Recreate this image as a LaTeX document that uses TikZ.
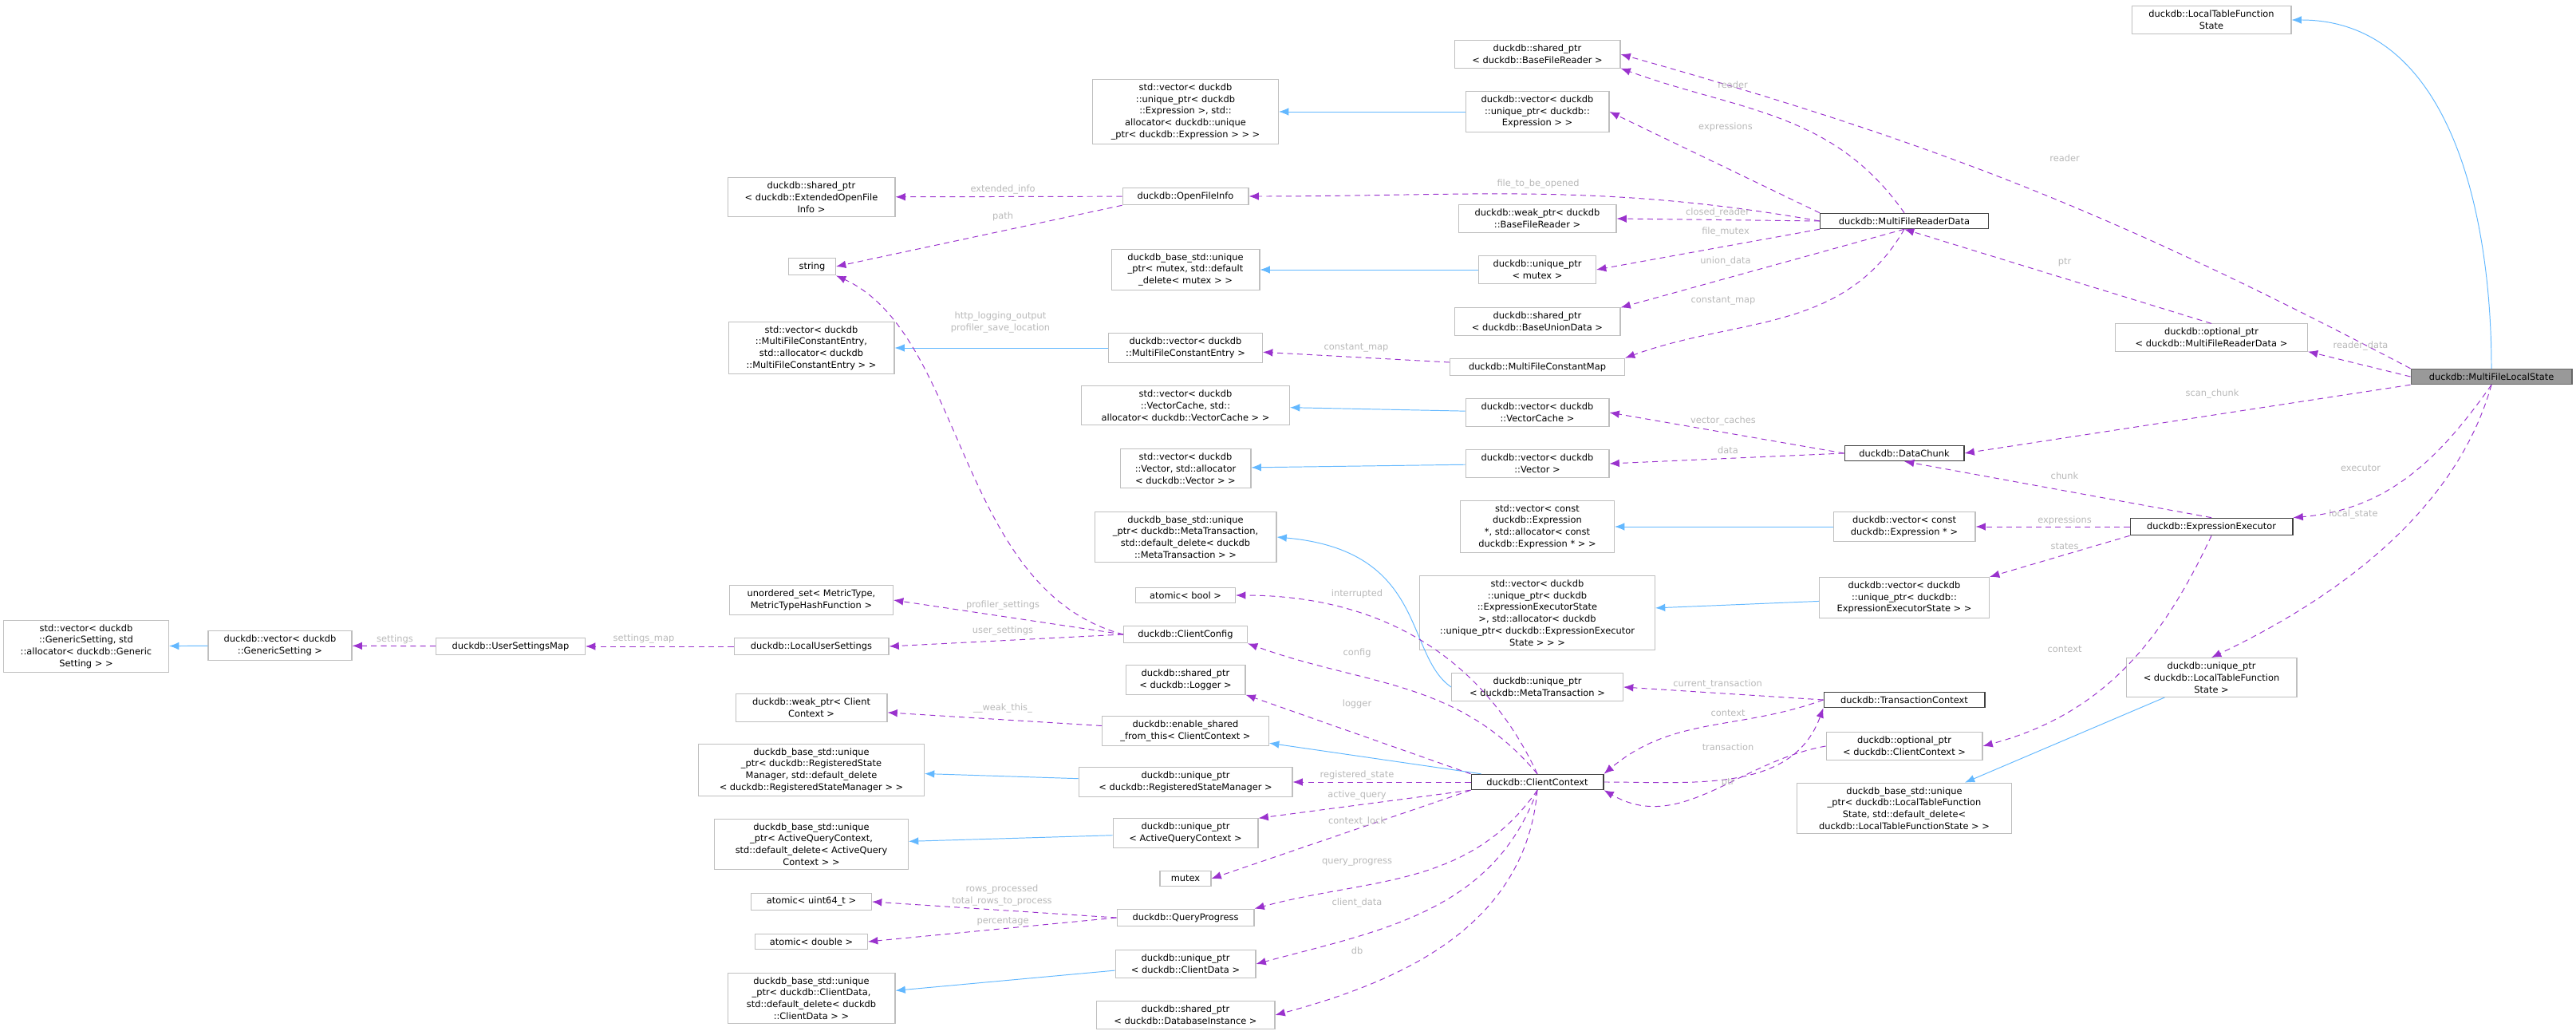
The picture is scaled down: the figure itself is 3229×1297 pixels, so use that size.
\documentclass[tikz,border=0pt]{standalone}
\usepackage{fontspec}
\setmainfont{DejaVu Sans}
\usepackage{xcolor}
\usetikzlibrary{arrows,arrows.meta,shapes,positioning}
\definecolor{refcol}{HTML}{9A32CD}
\definecolor{inhcol}{HTML}{63B8FF}
\definecolor{lblcol}{HTML}{B8B8B8}
\definecolor{litecol}{HTML}{BFBFBF}
\definecolor{darkcol}{HTML}{404040}
\begin{document}
\begin{tikzpicture}[x=0.02cm,y=-0.02cm]
    \tikzstyle{box}=[draw=litecol, line width=0.6pt, rectangle, align=center, inner xsep=3pt, inner ysep=3pt, font=\fontsize{6.5}{8.4}\selectfont]
    \tikzstyle{doc}=[box, draw=darkcol]
    \tikzstyle{main}=[box, draw=darkcol!80, fill=black!40]
    \tikzstyle{lbl}=[text=lblcol, font=\fontsize{6.5}{8.4}\selectfont, align=center, inner sep=1pt]
    \tikzstyle{ref}=[-{Latex[length=7pt,width=5.5pt]}, refcol, dash pattern=on 4pt off 3pt, line width=0.55pt]
    \tikzstyle{inh}=[-{Latex[length=7pt,width=5.5pt]}, inhcol, line width=0.55pt]
    \useasboundingbox (0,0) rectangle (3229,1297);
    % left columns
    \node[box,minimum width=4.14cm] (stdvecgs) at (108,810) {std::vector< duckdb\\::GenericSetting, std\\::allocator< duckdb::Generic\\Setting > >};
    \node[box,minimum width=3.6cm] (vecgs) at (351,809) {duckdb::vector< duckdb\\::GenericSetting >};
    \node[box,minimum width=3.74cm] (usermap) at (640,810) {duckdb::UserSettingsMap};
    \node[box,minimum width=4.2cm] (extinfo) at (1017,247) {duckdb::shared\_ptr\\< duckdb::ExtendedOpenFile\\Info >};
    \node[box,minimum width=1.18cm] (str) at (1018,334) {string};
    \node[box,minimum width=4.16cm] (stdvecmfce) at (1017,436) {std::vector< duckdb\\::MultiFileConstantEntry,\\ std::allocator< duckdb\\::MultiFileConstantEntry > >};
    \node[box,minimum width=4.1cm] (metricset) at (1017,752) {unordered\_set< MetricType,\\MetricTypeHashFunction >};
    \node[box,minimum width=3.88cm] (localsettings) at (1017,810) {duckdb::LocalUserSettings};
    \node[box,minimum width=3.8cm] (weakcc) at (1017,887) {duckdb::weak\_ptr< Client\\Context >};
    \node[box,minimum width=5.66cm] (basersm) at (1017,965) {duckdb\_base\_std::unique\\\_ptr< duckdb::RegisteredState\\Manager, std::default\_delete\\< duckdb::RegisteredStateManager > >};
    \node[box,minimum width=4.86cm] (baseaqc) at (1017,1058) {duckdb\_base\_std::unique\\\_ptr< ActiveQueryContext,\\ std::default\_delete< ActiveQuery\\Context > >};
    \node[box,minimum width=3.02cm] (atomu64) at (1017,1130) {atomic< uint64\_t >};
    \node[box,minimum width=2.82cm] (atomdbl) at (1017,1180) {atomic< double >};
    \node[box,minimum width=4.2cm] (basecd) at (1017,1251) {duckdb\_base\_std::unique\\\_ptr< duckdb::ClientData,\\ std::default\_delete< duckdb\\::ClientData > >};
    % middle column
    \node[box,minimum width=4.66cm] (stdvecexpr) at (1486,140) {std::vector< duckdb\\::unique\_ptr< duckdb\\::Expression >, std::\\allocator< duckdb::unique\\\_ptr< duckdb::Expression > > >};
    \node[box,minimum width=3.16cm] (openinfo) at (1486,246) {duckdb::OpenFileInfo};
    \node[box,minimum width=3.72cm] (basemutex) at (1486,338) {duckdb\_base\_std::unique\\\_ptr< mutex, std::default\\\_delete< mutex > >};
    \node[box,minimum width=3.86cm] (vecmfce) at (1486,436) {duckdb::vector< duckdb\\::MultiFileConstantEntry >};
    \node[box,minimum width=5.22cm] (stdvecvc) at (1486,508) {std::vector< duckdb\\::VectorCache, std::\\allocator< duckdb::VectorCache > >};
    \node[box,minimum width=3.28cm] (stdvecvec) at (1486,587) {std::vector< duckdb\\::Vector, std::allocator\\< duckdb::Vector > >};
    \node[box,minimum width=4.56cm] (basemeta) at (1486,673) {duckdb\_base\_std::unique\\\_ptr< duckdb::MetaTransaction,\\ std::default\_delete< duckdb\\::MetaTransaction > >};
    \node[box,minimum width=2.5cm] (atombool) at (1486,746) {atomic< bool >};
    \node[box,minimum width=3.1cm] (clientcfg) at (1486,795) {duckdb::ClientConfig};
    \node[box,minimum width=3.0cm] (logger) at (1486,852) {duckdb::shared\_ptr\\< duckdb::Logger >};
    \node[box,minimum width=4.18cm] (enableshared) at (1486,916) {duckdb::enable\_shared\\\_from\_this< ClientContext >};
    \node[box,minimum width=5.36cm] (uptrrsm) at (1486,980) {duckdb::unique\_ptr\\< duckdb::RegisteredStateManager >};
    \node[box,minimum width=3.64cm] (uptraqc) at (1486,1044) {duckdb::unique\_ptr\\< ActiveQueryContext >};
    \node[box,minimum width=1.28cm] (mtx) at (1486,1101) {mutex};
    \node[box,minimum width=3.44cm] (progress) at (1486,1150) {duckdb::QueryProgress};
    \node[box,minimum width=3.52cm] (uptrcd) at (1486,1208) {duckdb::unique\_ptr\\< duckdb::ClientData >};
    \node[box,minimum width=4.48cm] (shareddb) at (1486,1272) {duckdb::shared\_ptr\\< duckdb::DatabaseInstance >};
    % right-middle column
    \node[box,minimum width=4.16cm] (sharedbfr) at (1927,68) {duckdb::shared\_ptr\\< duckdb::BaseFileReader >};
    \node[box,minimum width=3.6cm] (vecexpr) at (1927,140) {duckdb::vector< duckdb\\::unique\_ptr< duckdb::\\Expression > >};
    \node[box,minimum width=3.96cm] (weakbfr) at (1927,274) {duckdb::weak\_ptr< duckdb\\::BaseFileReader >};
    \node[box,minimum width=2.94cm] (uptrmutex) at (1927,338) {duckdb::unique\_ptr\\< mutex >};
    \node[box,minimum width=4.16cm] (sharedunion) at (1927,403) {duckdb::shared\_ptr\\< duckdb::BaseUnionData >};
    \node[box,minimum width=4.38cm] (constmap) at (1927,460) {duckdb::MultiFileConstantMap};
    \node[box,minimum width=3.6cm] (vecvc) at (1927,517) {duckdb::vector< duckdb\\::VectorCache >};
    \node[box,minimum width=3.6cm] (vecvec) at (1927,581) {duckdb::vector< duckdb\\::Vector >};
    \node[box,minimum width=3.86cm] (stdvecconst) at (1927,660) {std::vector< const\\ duckdb::Expression\\ *, std::allocator< const\\ duckdb::Expression * > >};
    \node[box,minimum width=5.9cm] (stdvecees) at (1927,768) {std::vector< duckdb\\::unique\_ptr< duckdb\\::ExpressionExecutorState\\ >, std::allocator< duckdb\\::unique\_ptr< duckdb::ExpressionExecutor\\State > > >};
    \node[box,minimum width=4.3cm] (uptrmeta) at (1927,861) {duckdb::unique\_ptr\\< duckdb::MetaTransaction >};
    \node[doc,minimum width=3.32cm] (client) at (1927,980) {duckdb::ClientContext};
    % right columns
    \node[doc,minimum width=4.22cm] (readerdata) at (2387,277) {duckdb::MultiFileReaderData};
    \node[doc,minimum width=3.0cm] (chunk) at (2387,568) {duckdb::DataChunk};
    \node[box,minimum width=3.56cm] (vecconst) at (2387,660) {duckdb::vector< const\\ duckdb::Expression * >};
    \node[box,minimum width=4.26cm] (vecees) at (2387,749) {duckdb::vector< duckdb\\::unique\_ptr< duckdb::\\ExpressionExecutorState > >};
    \node[doc,minimum width=4.04cm] (transctx) at (2387,877) {duckdb::TransactionContext};
    \node[box,minimum width=3.92cm] (optcc) at (2387,935) {duckdb::optional\_ptr\\< duckdb::ClientContext >};
    \node[box,minimum width=5.38cm] (baseltfs) at (2387,1013) {duckdb\_base\_std::unique\\\_ptr< duckdb::LocalTableFunction\\State, std::default\_delete<\\ duckdb::LocalTableFunctionState > >};
    \node[box,minimum width=4.0cm] (ltfs) at (2772,25) {duckdb::LocalTableFunction\\State};
    \node[box,minimum width=4.82cm] (optreader) at (2772,423) {duckdb::optional\_ptr\\< duckdb::MultiFileReaderData >};
    \node[doc,minimum width=4.08cm] (executor) at (2772,660) {duckdb::ExpressionExecutor};
    \node[box,minimum width=4.28cm] (uptrltfs) at (2772,849) {duckdb::unique\_ptr\\< duckdb::LocalTableFunction\\State >};
    \node[main,minimum width=4.04cm] (localstate) at (3123,472) {duckdb::MultiFileLocalState};
    % inheritance
    \draw[inh] (localstate.north) to[out=90,in=0] (ltfs.east);
    \draw[inh] (vecexpr) -- (stdvecexpr);
    \draw[inh] (uptrmutex) -- (basemutex);
    \draw[inh] (vecmfce) -- (stdvecmfce);
    \draw[inh] (vecvc) -- (stdvecvc);
    \draw[inh] (vecvec) -- (stdvecvec);
    \draw[inh] (vecconst) -- (stdvecconst);
    \draw[inh] (vecees) -- (stdvecees);
    \draw[inh] (uptrmeta.west) .. controls (1760,820) and (1790,690) .. (basemeta.east);
    \draw[inh] (client) -- (enableshared);
    \draw[inh] (uptrrsm) -- (basersm);
    \draw[inh] (uptraqc) -- (baseaqc);
    \draw[inh] (uptrcd) -- (basecd);
    \draw[inh] (vecgs) -- (stdvecgs);
    \draw[inh] (uptrltfs) -- (baseltfs);
    % members of MultiFileLocalState
    \draw[ref] (localstate.north west) to[bend right=6] (sharedbfr.east) node[lbl] at (2588,198) {reader};
    \draw[ref] (localstate.west) -- (optreader.south east) node[lbl] at (2959,434) {reader\_data};
    \draw[ref] (localstate.south west) -- (chunk.east) node[lbl] at (2773,494) {scan\_chunk};
    \draw[ref] (localstate.south) to[out=235,in=5] (executor.north east) node[lbl] at (2959,587) {executor};
    \draw[ref] (localstate.south) .. controls (3090,600) and (2990,720) .. (uptrltfs.north) node[lbl] at (2950,645) {local\_state};
    \draw[ref] (optreader.north) -- (readerdata.south) node[lbl] at (2588,329) {ptr};
    % members of MultiFileReaderData
    \draw[ref] (readerdata.north) to[out=125,in=-20] (sharedbfr.south east) node[lbl] at (2172,106) {reader};
    \draw[ref] (readerdata.north west) -- (vecexpr.east) node[lbl] at (2163,159) {expressions};
    \draw[ref] (readerdata.west) to[out=170,in=0] (openinfo.east) node[lbl] at (1928,231) {file\_to\_be\_opened};
    \draw[ref] (readerdata.west) -- (weakbfr.east) node[lbl] at (2153,267) {closed\_reader};
    \draw[ref] (readerdata.south west) -- (uptrmutex.east) node[lbl] at (2163,291) {file\_mutex};
    \draw[ref] (readerdata.south) -- (sharedunion.north east) node[lbl] at (2163,328) {union\_data};
    \draw[ref] (readerdata.south) to[out=-120,in=20] (constmap.north east) node[lbl] at (2160,377) {constant\_map};
    \draw[ref] (constmap) -- (vecmfce) node[lbl] at (1700,436) {constant\_map};
    \draw[ref] (openinfo) -- (extinfo) node[lbl] at (1257,238) {extended\_info};
    \draw[ref] (openinfo.south west) -- (str.east) node[lbl] at (1257,271) {path};
    % members of DataChunk and ExpressionExecutor
    \draw[ref] (chunk.west) -- (vecvc.east) node[lbl] at (2160,528) {vector\_caches};
    \draw[ref] (chunk.west) -- (vecvec.east) node[lbl] at (2166,564) {data};
    \draw[ref] (executor.north) -- (chunk.south) node[lbl] at (2588,596) {chunk};
    \draw[ref] (executor) -- (vecconst) node[lbl] at (2588,652) {expressions};
    \draw[ref] (executor.south west) -- (vecees.north east) node[lbl] at (2588,685) {states};
    \draw[ref] (executor.south) to[out=-115,in=15] (optcc.east) node[lbl] at (2588,814) {context};
    % members of ClientContext
    \draw[ref] (client.north) to[out=115,in=0] (atombool.east) node[lbl] at (1701,744) {interrupted};
    \draw[ref] (client.north) to[out=130,in=-20] (clientcfg.south east) node[lbl] at (1701,818) {config};
    \draw[ref] (client.north west) -- (logger.south east) node[lbl] at (1701,882) {logger};
    \draw[ref] (client) -- (uptrrsm) node[lbl] at (1701,972) {registered\_state};
    \draw[ref] (client.south west) -- (uptraqc.north east) node[lbl] at (1701,997) {active\_query};
    \draw[ref] (client.south west) -- (mtx.east) node[lbl] at (1701,1030) {context\_lock};
    \draw[ref] (client.south) to[out=-125,in=15] (progress.north east) node[lbl] at (1701,1081) {query\_progress};
    \draw[ref] (client.south) to[out=-110,in=15] (uptrcd.east) node[lbl] at (1701,1132) {client\_data};
    \draw[ref] (client.south) to[out=-95,in=15] (shareddb.east) node[lbl] at (1701,1191) {db};
    \draw[ref] (client.east) to[out=0,in=-110] (transctx.south west) node[lbl] at (2166,936) {transaction};
    \draw[ref] (transctx.west) to[out=200,in=40] (client.north east) node[lbl] at (2166,894) {context};
    \draw[ref] (transctx.west) -- (uptrmeta.east) node[lbl] at (2153,858) {current\_transaction};
    \draw[ref] (optcc.west) to[out=190,in=-30] (client.south east) node[lbl] at (2166,981) {ptr};
    % settings and progress
    \draw[ref] (clientcfg.west) .. controls (1200,740) and (1210,420) .. (str.south east) node[lbl] at (1254,404) {http\_logging\_output\\profiler\_save\_location};
    \draw[ref] (clientcfg.west) -- (metricset.east) node[lbl] at (1257,759) {profiler\_settings};
    \draw[ref] (clientcfg.west) -- (localsettings.east) node[lbl] at (1257,791) {user\_settings};
    \draw[ref] (localsettings) -- (usermap) node[lbl] at (807,801) {settings\_map};
    \draw[ref] (usermap) -- (vecgs) node[lbl] at (495,801) {settings};
    \draw[ref] (enableshared) -- (weakcc) node[lbl] at (1257,888) {\_\_weak\_this\_};
    \draw[ref] (progress.west) -- (atomu64.east) node[lbl] at (1256,1122) {rows\_processed\\total\_rows\_to\_process};
    \draw[ref] (progress.west) -- (atomdbl.east) node[lbl] at (1257,1155) {percentage};
\end{tikzpicture}
\end{document}
